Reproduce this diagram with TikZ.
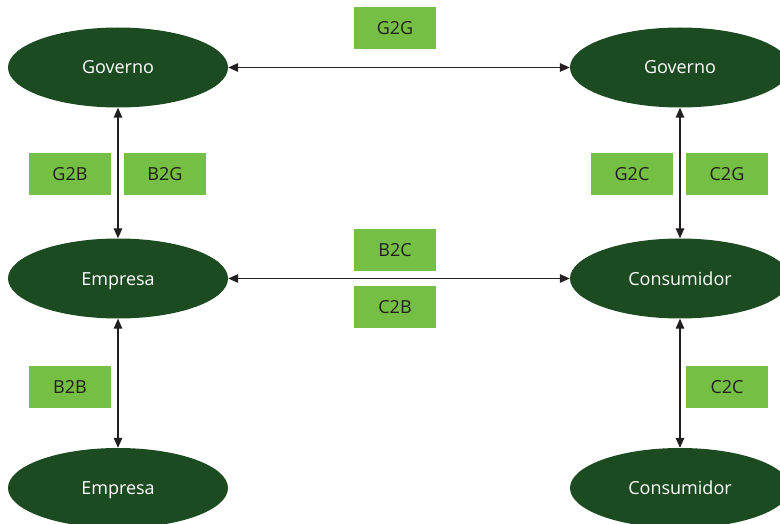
\documentclass[tikz,border=0pt]{standalone}
\usepackage{fontspec}
\setmainfont{Open Sans}
\usetikzlibrary{arrows.meta,shapes.geometric}
\definecolor{dkgreen}{HTML}{1C4A21}
\definecolor{ltgreen}{HTML}{74BF44}
\definecolor{txt}{HTML}{231F20}
\tikzset{
  ent/.style={ellipse, fill=dkgreen, minimum width=220pt, minimum height=80pt, inner sep=0pt, text=white, text height=14pt, text depth=1pt, font=\fontsize{18}{20}\selectfont},
  tag/.style={fill=ltgreen, minimum width=82pt, minimum height=42pt, inner sep=0pt, text=txt, text height=14pt, text depth=1pt, font=\fontsize{18}{20}\selectfont},
  link/.style={draw=txt, line width=1.4pt, {Triangle[length=10pt,width=8.5pt]}-{Triangle[length=10pt,width=8.5pt]}}
}
\begin{document}
\begin{tikzpicture}[x=1pt,y=-1pt]
\useasboundingbox (0,0) rectangle (780,524);
\clip (0,0) rectangle (780,524);
\node[ent] (g1) at (118,67.5) {Governo};
\node[ent] (g2) at (680,67.5) {Governo};
\node[ent] (e1) at (118,278.5) {Empresa};
\node[ent] (c1) at (680,278.5) {Consumidor};
\node[ent] (e2) at (118,488) {Empresa};
\node[ent] (c2) at (680,488) {Consumidor};
\draw[link] (g1.east) -- (g2.west);
\draw[link] (e1.east) -- (c1.west);
\draw[link] (g1.south) -- (e1.north);
\draw[link] (e1.south) -- (e2.north);
\draw[link] (g2.south) -- (c1.north);
\draw[link] (c1.south) -- (c2.north);
\node[tag] (tg2g) at (395,28) {G2G};
\node[tag] (tg2b) at (70,174) {G2B};
\node[tag] (tb2g) at (165,174) {B2G};
\node[tag] (tg2c) at (632,174) {G2C};
\node[tag] (tc2g) at (727,174) {C2G};
\node[tag] (tb2c) at (395,250) {B2C};
\node[tag] (tc2b) at (395,307) {C2B};
\node[tag] (tb2b) at (70,387) {B2B};
\node[tag] (tc2c) at (727,387) {C2C};
\end{tikzpicture}
\end{document}
